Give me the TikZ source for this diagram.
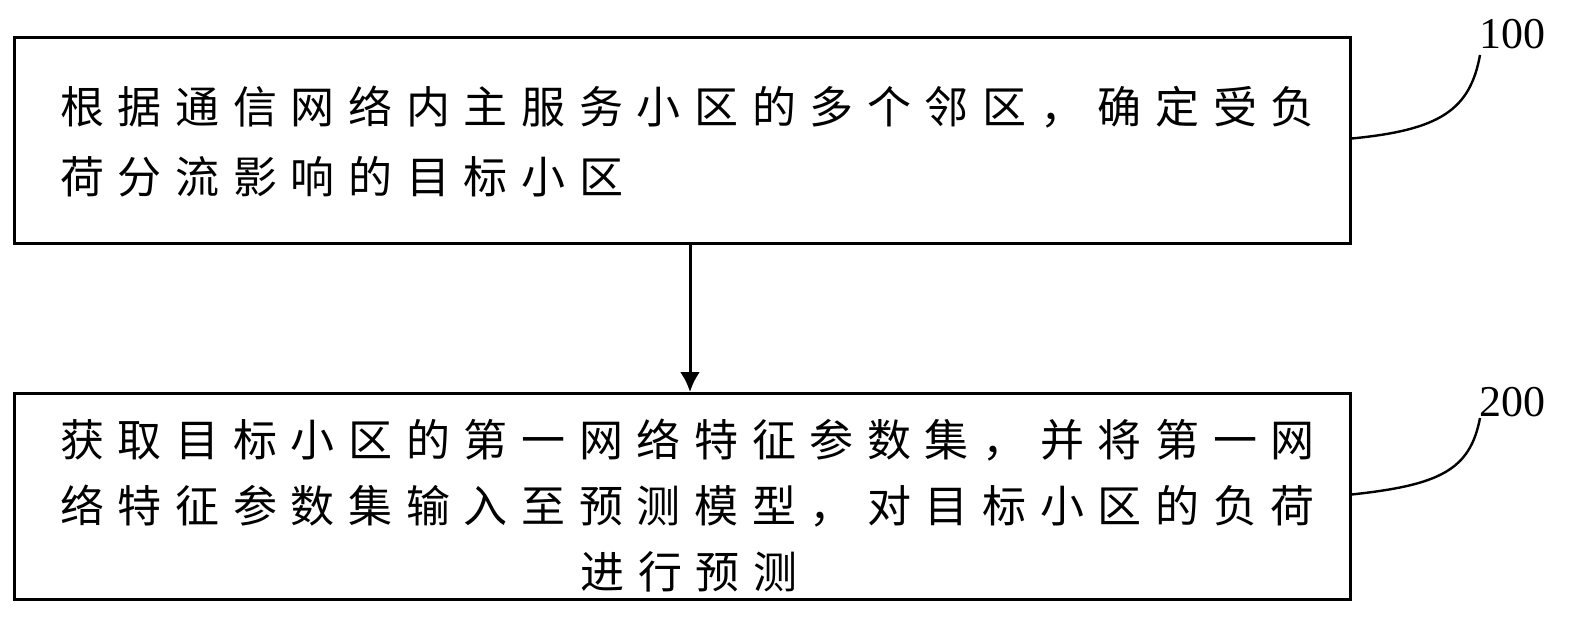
\documentclass[tikz,border=0pt]{standalone}
\usepackage{fontspec}
\usetikzlibrary{arrows.meta}
\newfontfamily\cjk[LetterSpace=31]{Noto Sans CJK SC}
\setmainfont{Liberation Serif}
\begin{document}
\begin{tikzpicture}[x=0.5pt,y=-0.5pt,
  box/.style={draw,line width=1.5pt,minimum width=668pt,minimum height=103pt,inner sep=0pt},
  txt/.style={anchor=west,inner sep=0pt,font=\cjk\fontsize{22pt}{22pt}\selectfont},
  lbl/.style={font=\fontsize{22pt}{22pt}\selectfont,inner sep=0pt}]
\useasboundingbox (0,0) rectangle (1575,623);
\node[box] (b1) at (682,140.5) {};
\node[box] (b2) at (682,496.5) {};
\node[txt] (t1) at (60,107) {根据通信网络内主服务小区的多个邻区，确定受负};
\node[txt] (t2) at (60,177) {荷分流影响的目标小区};
\node[txt] (t3) at (60,440) {获取目标小区的第一网络特征参数集，并将第一网};
\node[txt] (t4) at (60,506) {络特征参数集输入至预测模型，对目标小区的负荷};
\node[txt] (t5) at (580,572) {进行预测};
\draw[line width=1.5pt,-{Latex[length=10pt,width=10pt]}] ([xshift=4pt]b1.south) -- ([xshift=4pt]b2.north);
\node[lbl] (l1) at (1512,34) {100};
\node[lbl] (l2) at (1512,402) {200};
\coordinate (c1) at (1480,55);
\coordinate (c2) at (1480,418);
\draw[line width=1.2pt] (b1.east) ++(0,-2) .. controls (1440,130) and (1470,110) .. (c1);
\draw[line width=1.2pt] (b2.east) ++(0,-2) .. controls (1440,485) and (1470,470) .. (c2);
\end{tikzpicture}
\end{document}
